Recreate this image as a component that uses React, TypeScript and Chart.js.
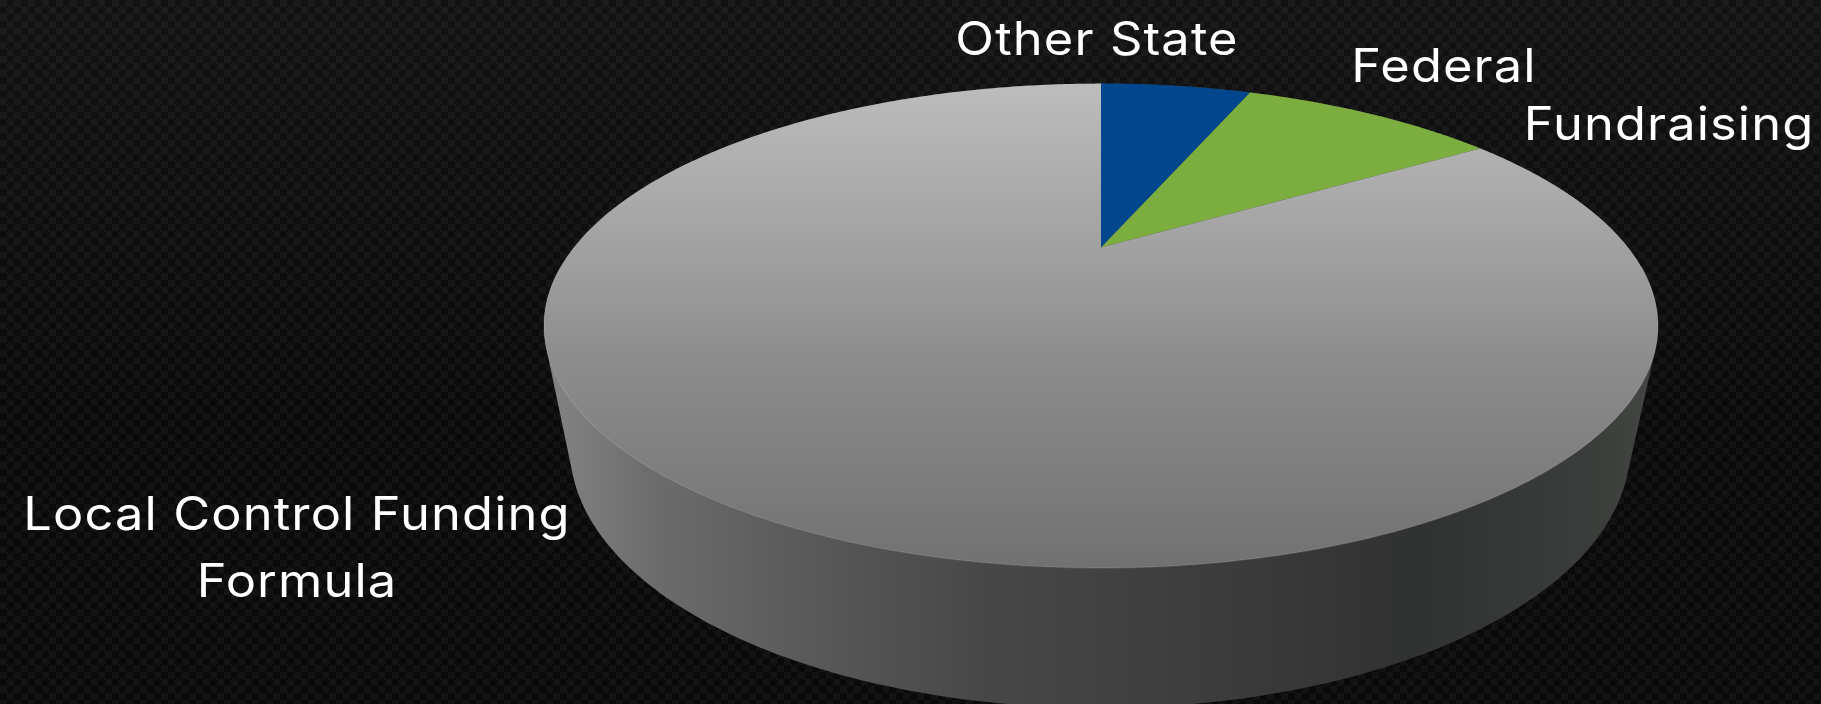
import React, { useEffect, useRef } from "react";
import Chart from "chart.js/auto";

// Share of school revenue by source, clockwise from twelve o'clock.
const sources = ["Other State", "Federal", "Fundraising", "Local Control Funding Formula"];
const shares = [6, 10, 0, 84];
const sliceColors = ["#00478d", "#7cad3f", "#e08a2c", "#9a9b9a"];

// Label text, split into its drawn lines.
const labelLines = [["Other State"], ["Federal"], ["Fundraising"], ["Local Control Funding", "Formula"]];
const labelCenters = [
  [1097, 55],
  [1444, 82],
  [1669, 140],
  [297, 530],
];
const labelLeading = 67;

const WIDTH = 1821;
const HEIGHT = 704;

// Perspective mapping of the pie's top face onto the canvas.
const face = { x: 1101, y: 247.4, a: 527, b: 216.8, k: 0.3237 };
// The lower rim of the disc's wall, seen as an ellipse.
const rim = { x: 1100, y: 448, a: 530, b: 260 };

function project(angle: number, radius = 1): [number, number] {
  const u = Math.cos(angle) * radius;
  const v = -Math.sin(angle) * radius;
  const w = 1 + face.k * v;
  return [face.x + (face.a * u) / w, face.y - (face.b * v) / w];
}

function convexHull(points: [number, number][]) {
  const pts = [...points].sort((p, q) => p[0] - q[0] || p[1] - q[1]);
  const cross = (o: number[], a: number[], b: number[]) =>
    (a[0] - o[0]) * (b[1] - o[1]) - (a[1] - o[1]) * (b[0] - o[0]);
  const half = (list: [number, number][]) => {
    const out: [number, number][] = [];
    for (const p of list) {
      while (out.length >= 2 && cross(out[out.length - 2], out[out.length - 1], p) <= 0) out.pop();
      out.push(p);
    }
    out.pop();
    return out;
  };
  return [...half(pts), ...half([...pts].reverse())];
}

const carbonBackground = {
  id: "carbonBackground",
  beforeDraw(chart: Chart) {
    const { ctx } = chart;
    const tile = document.createElement("canvas");
    tile.width = 14;
    tile.height = 14;
    const t = tile.getContext("2d")!;
    t.fillStyle = "#0a0a0a";
    t.fillRect(0, 0, 14, 14);
    t.fillStyle = "#131313";
    t.fillRect(0, 0, 7, 7);
    t.fillRect(7, 7, 7, 7);
    ctx.save();
    ctx.fillStyle = ctx.createPattern(tile, "repeat")!;
    ctx.fillRect(0, 0, WIDTH, HEIGHT);
    // The weave is a little brighter towards the top edge.
    const sheen = ctx.createLinearGradient(0, 0, 0, HEIGHT);
    sheen.addColorStop(0, "rgba(255,255,255,0.035)");
    sheen.addColorStop(0.6, "rgba(255,255,255,0)");
    ctx.fillStyle = sheen;
    ctx.fillRect(0, 0, WIDTH, HEIGHT);
    ctx.restore();
  },
};

const perspectivePie = {
  id: "perspectivePie",
  beforeDatasetDraw(chart: Chart) {
    const { ctx } = chart;
    const arcs = chart.getDatasetMeta(0).data as any[];

    // Wall of the disc: hull of the top face and the lower rim.
    const outline: [number, number][] = [];
    for (let d = 0; d < 360; d += 1) {
      const t = (d * Math.PI) / 180;
      outline.push(project(t));
      outline.push([rim.x + rim.a * Math.cos(t), rim.y + rim.b * Math.sin(t)]);
    }
    const hull = convexHull(outline);
    const wall = ctx.createLinearGradient(540, 0, 1660, 0);
    wall.addColorStop(0, "#858585");
    wall.addColorStop(0.1, "#6c6c6c");
    wall.addColorStop(0.25, "#585858");
    wall.addColorStop(0.4, "#474747");
    wall.addColorStop(0.55, "#3f3f3f");
    wall.addColorStop(0.78, "#303231");
    wall.addColorStop(0.95, "#3c3e3c");
    wall.addColorStop(1, "#464846");
    ctx.save();
    ctx.beginPath();
    hull.forEach(([x, y], i) => (i ? ctx.lineTo(x, y) : ctx.moveTo(x, y)));
    ctx.closePath();
    ctx.fillStyle = wall;
    ctx.fill();

    // Top face, one wedge per data value, using the angles the controller computed.
    arcs.forEach((arc) => {
      const { startAngle, endAngle } = arc.getProps(["startAngle", "endAngle"], true);
      if (endAngle - startAngle <= 0) return;
      ctx.beginPath();
      ctx.moveTo(face.x, face.y);
      const steps = Math.max(2, Math.ceil((endAngle - startAngle) / 0.01));
      for (let i = 0; i <= steps; i++) {
        const [x, y] = project(startAngle + ((endAngle - startAngle) * i) / steps);
        ctx.lineTo(x, y);
      }
      ctx.closePath();
      ctx.fillStyle = arc.options.backgroundColor;
      ctx.fill();
    });

    // Faint highlight where the front of the face meets the wall.
    ctx.beginPath();
    for (let d = 5; d <= 175; d += 1) {
      const [x, y] = project((d * Math.PI) / 180);
      d === 5 ? ctx.moveTo(x, y) : ctx.lineTo(x, y);
    }
    ctx.strokeStyle = "rgba(255,255,255,0.1)";
    ctx.lineWidth = 1.5;
    ctx.stroke();
    ctx.restore();
    return false;
  },
};

const sliceLabels = {
  id: "sliceLabels",
  afterDraw(chart: Chart) {
    const { ctx } = chart;
    ctx.save();
    ctx.fillStyle = "#ffffff";
    ctx.textAlign = "center";
    ctx.textBaseline = "alphabetic";
    ctx.font = '400 46px Inter, "Noto Sans", sans-serif';
    (ctx as any).letterSpacing = "1px";
    labelLines.forEach((lines, i) => {
      lines.forEach((line, j) => {
        ctx.save();
        ctx.translate(labelCenters[i][0], labelCenters[i][1] + j * labelLeading);
        ctx.scale(1.1, 1);
        ctx.fillText(line, 0, 0);
        ctx.restore();
      });
    });
    ctx.restore();
  },
};

export default function App() {
  const ref = useRef<HTMLCanvasElement>(null);
  useEffect(() => {
    const canvas = ref.current!;
    const colors = sliceColors.map((c, i) => {
      if (i !== sliceColors.length - 1) return c;
      const g = canvas.getContext("2d")!.createLinearGradient(0, 84, 0, 568);
      g.addColorStop(0, "#bcbcbc");
      g.addColorStop(0.24, "#a9a9a9");
      g.addColorStop(0.4, "#9c9c9c");
      g.addColorStop(0.57, "#8c8c8c");
      g.addColorStop(0.86, "#7a7a7a");
      g.addColorStop(1, "#707170");
      return g;
    });
    const chart = new Chart(canvas, {
      type: "pie",
      data: {
        labels: sources,
        datasets: [{ data: shares, backgroundColor: colors as any, borderWidth: 0 }],
      },
      options: {
        animation: false,
        responsive: false,
        plugins: { legend: { display: false }, tooltip: { enabled: false } },
      },
      plugins: [carbonBackground, perspectivePie, sliceLabels],
    });
    return () => chart.destroy();
  }, []);
  return (
    <div style={{ position: "fixed", inset: 0, background: "#0a0a0a" }}>
      <canvas ref={ref} width={WIDTH} height={HEIGHT} style={{ display: "block" }} />
    </div>
  );
}
